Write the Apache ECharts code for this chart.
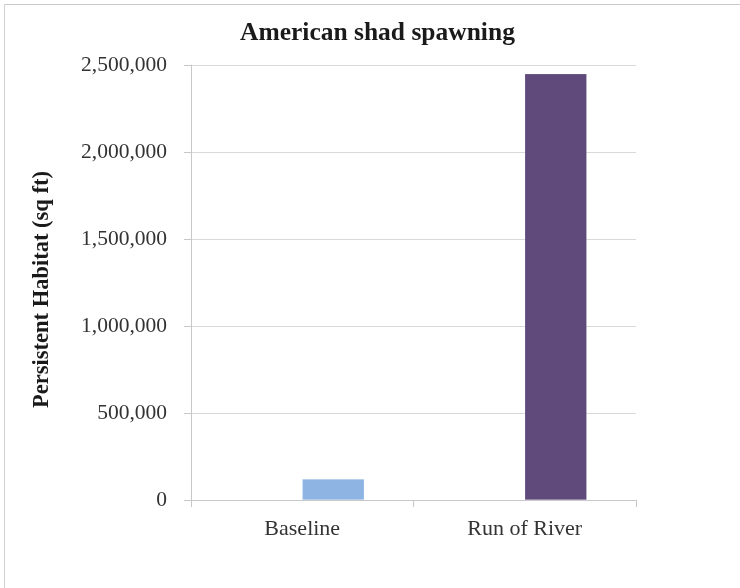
<!DOCTYPE html>
<html>
<head>
<meta charset="utf-8">
<script src="https://cdn.jsdelivr.net/npm/echarts@6/dist/echarts.min.js"></script>
<style>
  html, body { margin: 0; padding: 0; background: #ffffff; }
  #chart { width: 740px; height: 588px; }
</style>
</head>
<body>
<div id="chart"></div>
<script>
// Persistent habitat area for American shad spawning, by flow scenario
const categories = ['Baseline', 'Run of River'];
const habitatSqFt = [120000, 2450000];
const barColors = ['#8EB4E3', '#604A7B'];
const yTicks = [0, 500000, 1000000, 1500000, 2000000, 2500000];

const serif = '"Liberation Serif", "Times New Roman", serif';
const fmt = v => v.toLocaleString('en-US');

const chart = echarts.init(document.getElementById('chart'), null, { renderer: 'canvas' });

chart.setOption({
  animation: false,
  backgroundColor: '#ffffff',
  title: {
    text: 'American shad spawning',
    left: 235,
    top: 15,
    textStyle: { fontFamily: serif, fontWeight: 'bold', fontSize: 25.5, color: '#1a1a1a' }
  },
  grid: { left: 191, right: 104, top: 65, bottom: 88, containLabel: false },
  xAxis: {
    type: 'category',
    data: categories,
    axisLine: { lineStyle: { color: '#C8C8C8', width: 1 } },
    axisTick: { show: true, length: 7, alignWithLabel: false, lineStyle: { color: '#C8C8C8' } },
    axisLabel: { fontFamily: serif, fontSize: 22, color: '#333333', margin: 18 }
  },
  yAxis: {
    type: 'value',
    min: yTicks[0],
    max: yTicks[yTicks.length - 1],
    interval: yTicks[1] - yTicks[0],
    name: 'Persistent Habitat (sq ft)',
    nameLocation: 'middle',
    nameGap: 137,
    nameTextStyle: { fontFamily: serif, fontWeight: 'bold', fontSize: 22.5, color: '#1a1a1a', padding: [0, 14, 0, 0] },
    axisLine: { show: true, lineStyle: { color: '#C8C8C8', width: 1 } },
    axisTick: { show: true, length: 7, lineStyle: { color: '#C8C8C8' } },
    splitLine: { lineStyle: { color: '#D9D9D9', width: 1 } },
    axisLabel: { fontFamily: serif, fontSize: 21.5, color: '#333333', margin: 24, formatter: fmt }
  },
  series: [
    {
      // empty leading slot of each category group
      type: 'bar',
      data: categories.map(() => null),
      barWidth: 62,
      barGap: '0%',
      silent: true
    },
    {
      type: 'bar',
      data: habitatSqFt.map((v, i) => ({ value: v, itemStyle: { color: barColors[i] } })),
      barWidth: 62,
      barGap: '0%',
      itemStyle: { borderColor: 'rgba(255,255,255,0.35)', borderWidth: 0.5 }
    }
  ],
  graphic: [
    { type: 'line', shape: { x1: 4.5, y1: 4.5, x2: 740, y2: 4.5 }, style: { stroke: '#C8C8C8', lineWidth: 1 } },
    { type: 'line', shape: { x1: 4.5, y1: 4.5, x2: 4.5, y2: 588 }, style: { stroke: '#D0D0D0', lineWidth: 1 } }
  ]
});
</script>
</body>
</html>
